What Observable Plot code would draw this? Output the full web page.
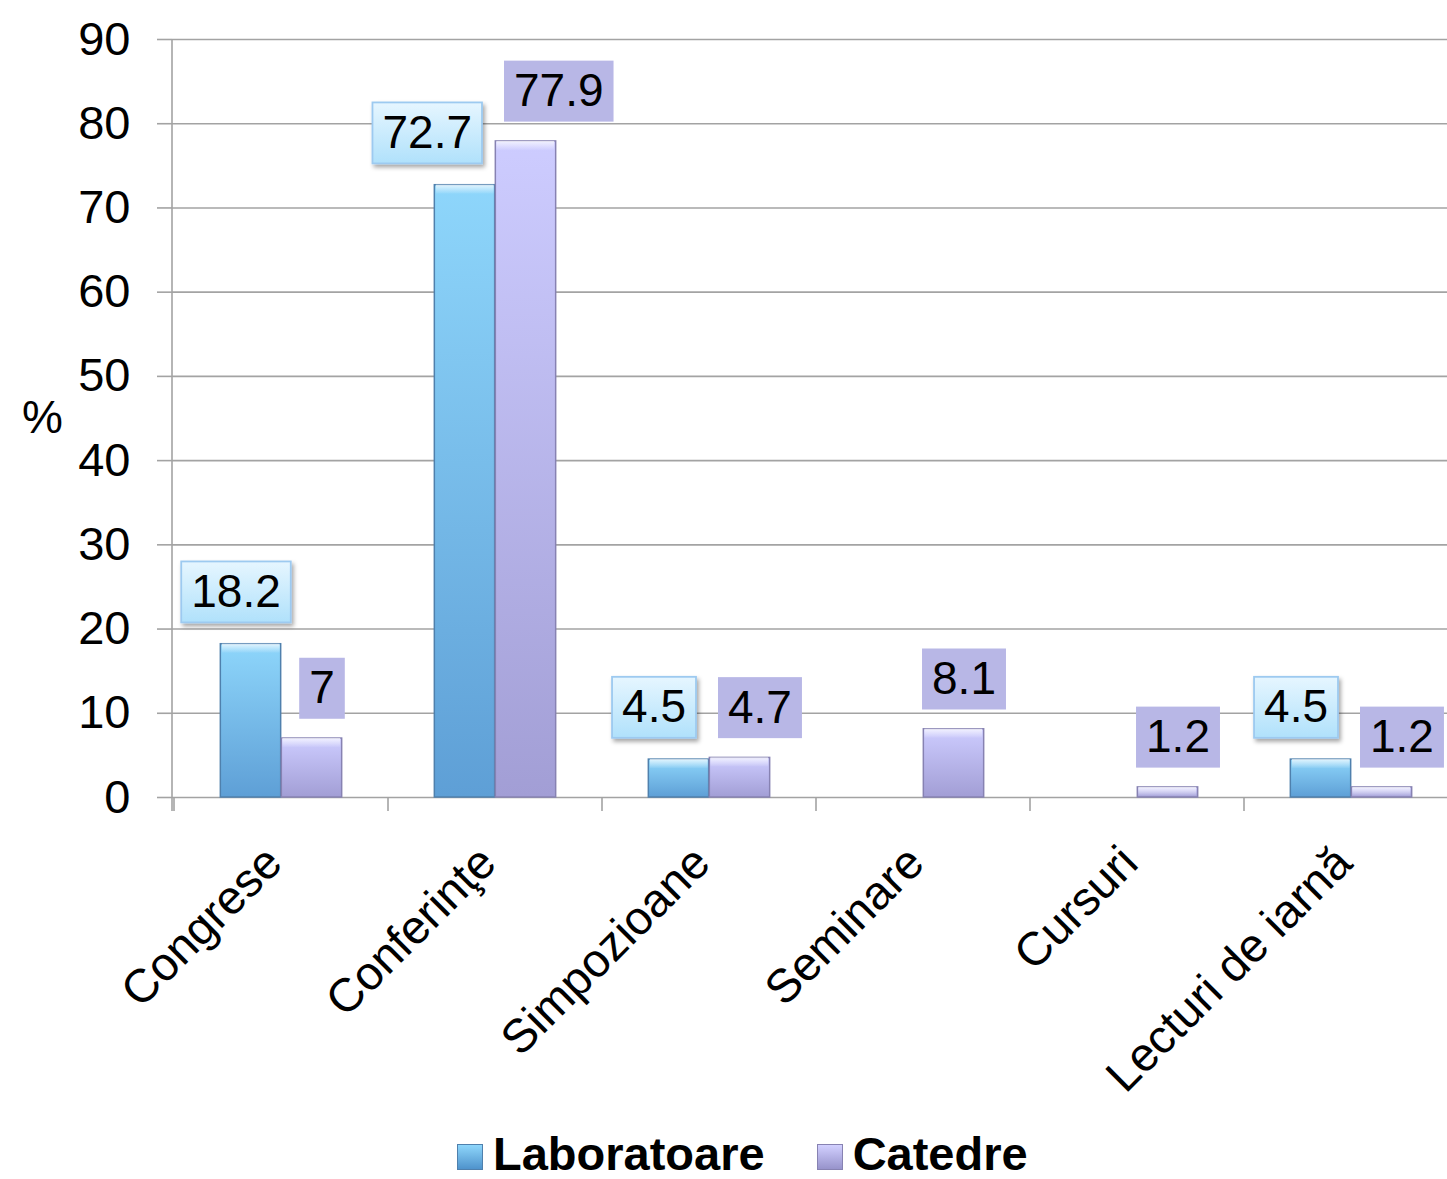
<!DOCTYPE html>
<html>
<head>
<meta charset="utf-8">
<script src="https://cdn.jsdelivr.net/npm/d3@7"></script>
<script src="https://cdn.jsdelivr.net/npm/@observablehq/plot@0.6"></script>
<style>
html, body { margin: 0; padding: 0; overflow: hidden; background: #fff; }
body { font-family: "Liberation Sans", Arial, Helvetica, sans-serif; width: 1447px; height: 1179px; }
#chart svg { display: block; overflow: hidden; }
#legend { display: flex; align-items: flex-end; height: 59px; padding-left: 457px; font-weight: bold; font-size: 47px; line-height: 50px; color: #000; box-sizing: border-box; }
#legend .item { display: flex; align-items: center; margin-right: 52px; height: 50px; }
#legend .sw { width: 26px; height: 26px; margin-right: 10px; box-sizing: border-box; margin-top: 6px; }
</style>
</head>
<body>
<div id="chart"></div>
<div id="legend"></div>
<script>
// ---- data ----
const categories = ["Congrese", "Conferinţe", "Simpozioane", "Seminare", "Cursuri", "Lecturi de iarnă"];
const laboratoare = [18.2, 72.7, 4.5, null, null, 4.5];
const catedre = [7, 77.9, 4.7, 8.1, 1.2, 1.2];
const seriesNames = ["Laboratoare", "Catedre"];
const yTicks = [0, 10, 20, 30, 40, 50, 60, 70, 80, 90];
const yLabel = "%";

// ---- layout / style ----
const W = 1447, H = 1120, ML = 172, MT = 39, MB = 323;
const XR = 1460; // plot area continues past the right edge, as in the reference crop
const GRID = "#a3a3a3";
const bw = (XR - ML) / categories.length;
const barW = 61;

const labRows = categories.map((c, i) => ({cat: c, value: laboratoare[i]})).filter(d => d.value != null);
const catRows = categories.map((c, i) => ({cat: c, value: catedre[i]})).filter(d => d.value != null);

function defsMark() {
  const defs = d3.create("svg:defs");
  const lg = (id, stops) => {
    const g = defs.append("linearGradient").attr("id", id).attr("x1", 0).attr("y1", 0).attr("x2", 0).attr("y2", 1);
    stops.forEach(([o, c, op]) => g.append("stop").attr("offset", o).attr("stop-color", c).attr("stop-opacity", op ?? 1));
  };
  lg("gLab", [[0, "#8ed6fb"], [1, "#5e9fd6"]]);
  lg("gCat", [[0, "#cdccff"], [1, "#a29ed5"]]);
  lg("gBevel", [[0, "#ffffff", 0.75], [1, "#ffffff", 0.05]]);
  lg("gLabBox", [[0, "#e6f6ff"], [1, "#b0e1fb"]]);
  const f = defs.append("filter").attr("id", "shadow").attr("x", "-20%").attr("y", "-20%").attr("width", "150%").attr("height", "160%");
  f.append("feDropShadow").attr("dx", 2).attr("dy", 3).attr("stdDeviation", 2).attr("flood-color", "#000").attr("flood-opacity", 0.35);
  return defs.node();
}

function frameLines(index, scales, values, dims) {
  const x = scales.x, y = scales.y;
  const step = x.bandwidth ? x.bandwidth() : bw;
  const xs = categories.map(c => x(c)).concat([x(categories[categories.length - 1]) + step]);
  const y0 = y(0);
  const g = d3.create("svg:g").attr("stroke", GRID).attr("stroke-width", 1.6).attr("fill", "none");
  g.selectAll("line.t").data(xs).join("line")
    .attr("x1", d => d).attr("x2", d => d).attr("y1", y0).attr("y2", y0 + 14);
  g.append("line").attr("x1", dims.marginLeft).attr("x2", dims.marginLeft)
    .attr("y1", y(yTicks[yTicks.length - 1])).attr("y2", y0 + 14);
  return g.node();
}

const chart = Plot.plot({
  width: W, height: H,
  marginLeft: ML, marginRight: 0, marginTop: MT, marginBottom: MB,
  style: {fontFamily: '"Liberation Sans", Arial, Helvetica, sans-serif', background: "#fff", color: "#000", overflow: "hidden"},
  x: {domain: categories, padding: 0, range: [ML, XR], axis: null},
  y: {domain: [0, 90], axis: null},
  marks: [
    defsMark,
    Plot.gridY(yTicks, {stroke: GRID, strokeOpacity: 1, strokeWidth: 1.6}),
    Plot.axisY(yTicks, {label: null, tickSize: 15, tickPadding: 27, fontSize: 47, stroke: GRID, strokeWidth: 1.6, tickFormat: d => String(d)}),
    frameLines,
    Plot.text([yLabel], {text: d => d, frameAnchor: "left", textAnchor: "middle", dx: -130, fontSize: 46}),
    Plot.text(categories, {x: d => d, text: d => d, frameAnchor: "bottom", dx: 3, dy: 68, rotate: -45, textAnchor: "end", fontSize: 47}),
    // bars
    Plot.barY(labRows, {x: "cat", y: "value", fill: "url(#gLab)", stroke: "#4f80ad", strokeWidth: 1.5,
      insetLeft: bw / 2 - barW, insetRight: bw / 2}),
    Plot.barY(catRows, {x: "cat", y: "value", fill: "url(#gCat)", stroke: "#8782b2", strokeWidth: 1.5,
      insetLeft: bw / 2, insetRight: bw / 2 - barW}),
    Plot.barY(labRows, {x: "cat", y1: "value", y2: "value", insetBottom: -9, fill: "url(#gBevel)",
      insetLeft: bw / 2 - barW + 1.5, insetRight: bw / 2 + 1}),
    Plot.barY(catRows, {x: "cat", y1: "value", y2: "value", insetBottom: -9, fill: "url(#gBevel)",
      insetLeft: bw / 2 + 1, insetRight: bw / 2 - barW + 1.5}),
    // value labels
    Plot.text(labRows, {x: "cat", y: "value", text: d => String(d.value), dx: -barW / 2 - 15, dy: -52, fontSize: 46, fill: "#000001"}),
    Plot.text(catRows, {x: "cat", y: "value", text: d => String(d.value), dx: barW / 2 + 10, dy: -50, fontSize: 46, fill: "#000002"})
  ]
});

document.getElementById("chart").appendChild(chart);

// label boxes behind value labels (with collision avoidance between the two labels of a category)
const SVGNS = "http://www.w3.org/2000/svg";
const svgRect = chart.getBoundingClientRect();
function collect(fillAttr, rows) {
  const out = [];
  chart.querySelectorAll(`g[fill="${fillAttr}"]`).forEach(g => {
    g.setAttribute("fill", "#000");
    g.querySelectorAll("text").forEach((t, k) => {
      const cr = t.getBoundingClientRect();
      out.push({g, t, cat: rows[k].cat, b: t.getBBox(), shift: 0,
        gx: cr.left - svgRect.left, gy: cr.top - svgRect.top, gw: cr.width, gh: cr.height});
    });
  });
  return out;
}
const labL = collect("#000001", labRows), catL = collect("#000002", catRows);
const padX = 10, boxH = 61, gap = 22;
function gbox(l) {
  const cy = l.gy + l.gh / 2 + 1;
  return {x0: l.gx - padX, x1: l.gx + l.gw + padX, y0: cy - boxH / 2, y1: cy + boxH / 2};
}
labL.forEach(a => {
  const c = catL.find(c => c.cat === a.cat);
  if (!c) return;
  const A = gbox(a), C = gbox(c);
  if (A.x1 + gap > C.x0 && A.y1 > C.y0 && A.y0 < C.y1) {
    const ov = A.x1 + gap - C.x0;
    a.shift -= ov / 2; c.shift += ov / 2;
  }
});
function draw(list, boxFill, stroke, shadow) {
  list.forEach(l => {
    const cy = l.b.y + l.b.height / 2 + 1;
    const r = document.createElementNS(SVGNS, "rect");
    r.setAttribute("x", l.b.x - padX + l.shift); r.setAttribute("y", cy - boxH / 2);
    r.setAttribute("width", l.b.width + 2 * padX); r.setAttribute("height", boxH);
    r.setAttribute("fill", boxFill);
    if (stroke) { r.setAttribute("stroke", stroke); r.setAttribute("stroke-width", 1.8); }
    if (shadow) r.setAttribute("filter", "url(#shadow)");
    const tr = l.t.getAttribute("transform") || "";
    if (tr) r.setAttribute("transform", tr);
    if (l.shift) l.t.setAttribute("transform", (tr ? tr + " " : "") + `translate(${l.shift},0)`);
    l.g.insertBefore(r, l.t);
  });
}
draw(labL, "url(#gLabBox)", "#9dcaf0", true);
draw(catL, "#b8b7e6", null, false);

// legend
const swatches = ["linear-gradient(#8ed6fb, #4f93cc)", "linear-gradient(#d2d0ff, #9793cb)"];
const legend = d3.select("#legend");
seriesNames.forEach((name, i) => {
  const it = legend.append("div").attr("class", "item");
  it.append("div").attr("class", "sw").style("background", swatches[i]).style("border", "1px solid " + (i ? "#8782b2" : "#4f80ad"));
  it.append("span").text(name);
});
</script>
</body>
</html>
